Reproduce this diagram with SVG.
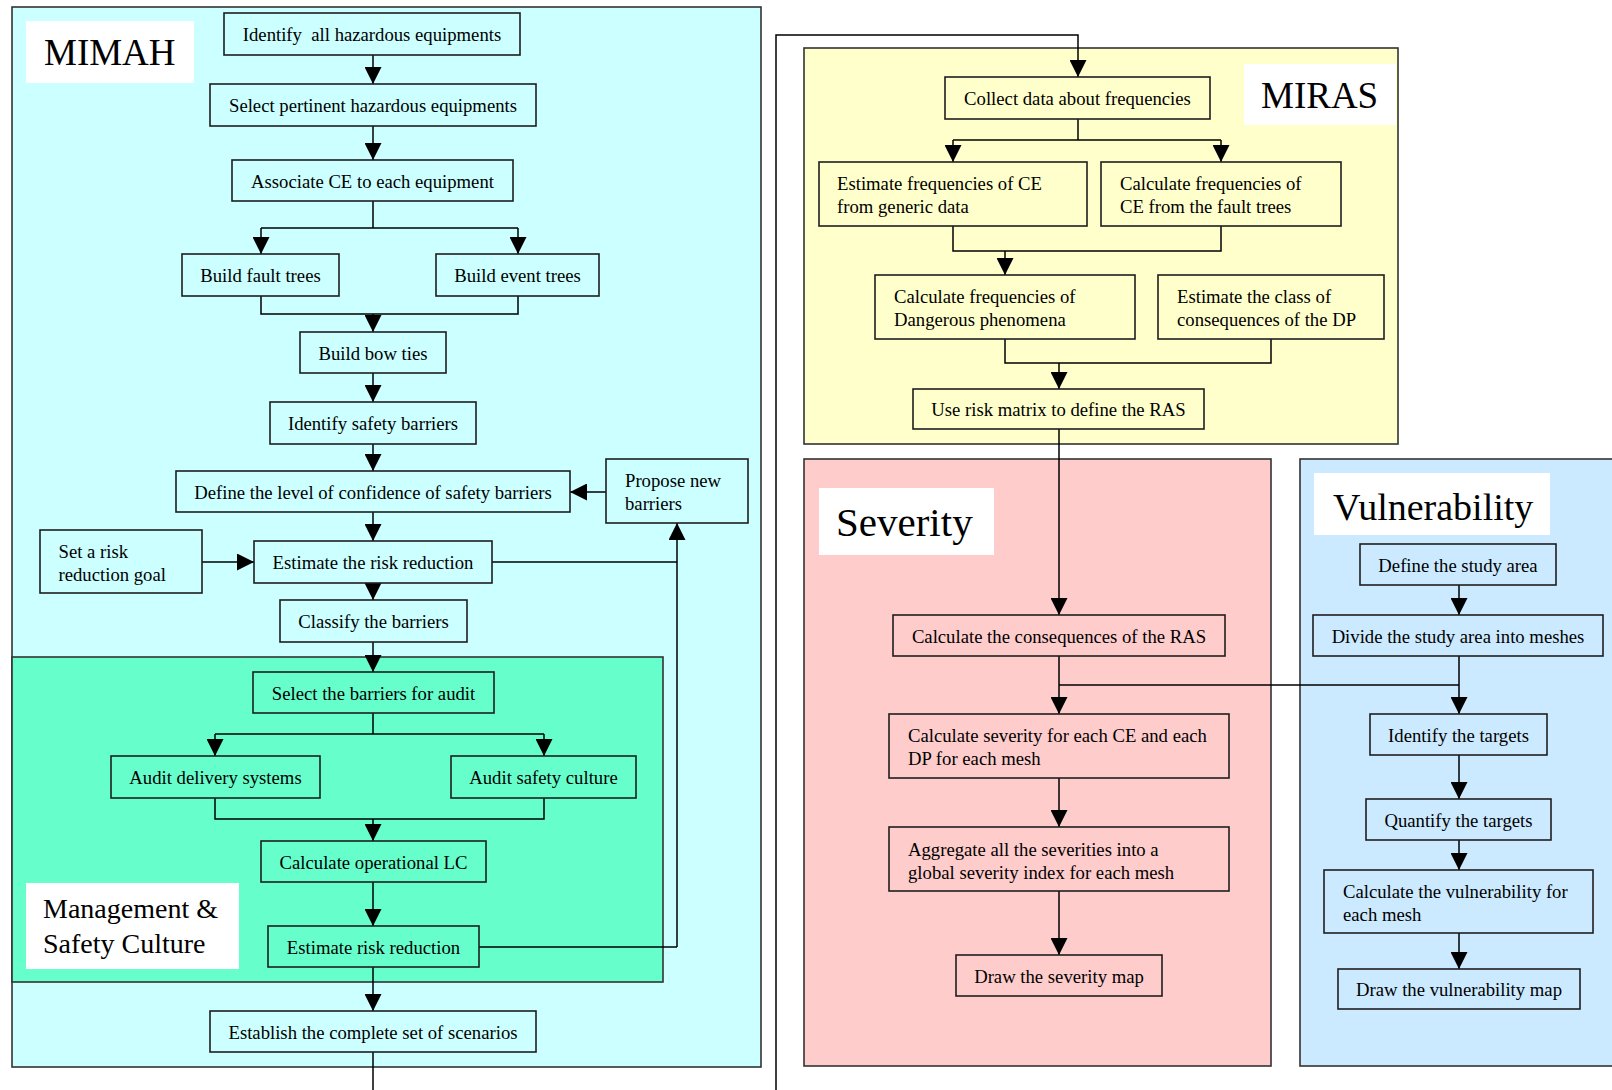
<svg xmlns="http://www.w3.org/2000/svg" width="1612" height="1090" viewBox="0 0 1612 1090">
  <style>
    .bg { fill: #ffffff; }
    .panel { stroke: #333333; stroke-width: 1.6; }
    .mimah { fill: #ccffff; }
    .msc { fill: #66ffcc; }
    .miras { fill: #ffffcc; }
    .sev { fill: #ffcccc; }
    .vul { fill: #cceaff; }
    .tag { fill: #ffffff; }
    .tagtext { font-family: "Liberation Serif", "Times New Roman", serif; fill: #000; }
    .box { fill: none; stroke: #1e1e1e; stroke-width: 1.6; }
    .t { font-family: "Liberation Serif", "Times New Roman", serif; font-size: 18.7px; fill: #000; }
    .c { text-anchor: middle; }
    .wire { fill: none; stroke: #000; stroke-width: 1.5; }
    .arr { marker-end: url(#head); }
  </style>
  <defs>
    <marker id="head" viewBox="0 0 17 17" refX="17" refY="8.5" markerWidth="17" markerHeight="17" markerUnits="userSpaceOnUse" orient="auto">
      <path d="M0,0 L17,8.5 L0,17 Z" fill="#000"/>
    </marker>
  </defs>

  <rect class="bg" x="0" y="0" width="1612" height="1090"/>

  <!-- Process areas -->
  <g id="area-mimah">
    <rect class="panel mimah" x="12" y="7" width="749" height="1060"/>
    <rect class="tag" x="26" y="21" width="168" height="62"/>
    <text class="tagtext" x="44" y="65" font-size="37">MIMAH</text>
  </g>
  <g id="area-msc">
    <rect class="panel msc" x="12" y="657" width="651" height="325"/>
    <rect class="tag" x="26" y="883" width="213" height="86"/>
    <text class="tagtext" x="43" y="918" font-size="28">Management &amp;</text>
    <text class="tagtext" x="43" y="953" font-size="28">Safety Culture</text>
  </g>
  <g id="area-miras">
    <rect class="panel miras" x="804" y="48" width="594" height="396"/>
    <rect class="tag" x="1244" y="64" width="152" height="61"/>
    <text class="tagtext" x="1261" y="108" font-size="37">MIRAS</text>
  </g>
  <g id="area-severity">
    <rect class="panel sev" x="804" y="459" width="467" height="607"/>
    <rect class="tag" x="819" y="488" width="175" height="67"/>
    <text class="tagtext" x="836" y="536" font-size="41">Severity</text>
  </g>
  <g id="area-vulnerability">
    <rect class="panel vul" x="1300" y="459" width="330" height="607"/>
    <rect class="tag" x="1314" y="473" width="236" height="62"/>
    <text class="tagtext" x="1333" y="520" font-size="38">Vulnerability</text>
  </g>

  <!-- Connectors -->
  <g id="connectors">
    <!-- MIMAH -->
    <path class="wire arr" d="M373,55 V84"/>
    <path class="wire arr" d="M373,126 V160"/>
    <path class="wire" d="M373,201 V228 M261,228 H518"/>
    <path class="wire arr" d="M261,228 V254"/>
    <path class="wire arr" d="M518,228 V254"/>
    <path class="wire" d="M261,296 V314 H518 V296"/>
    <path class="wire arr" d="M373,314 V332"/>
    <path class="wire arr" d="M373,373 V402"/>
    <path class="wire arr" d="M373,444 V471"/>
    <path class="wire arr" d="M606,492 H570"/>
    <path class="wire arr" d="M373,512 V541"/>
    <path class="wire arr" d="M202,562 H254"/>
    <path class="wire" d="M492,562 H677"/>
    <path class="wire arr" d="M677,947 V523"/>
    <path class="wire" d="M479,947 H677"/>
    <path class="wire arr" d="M373,583 V600"/>
    <path class="wire arr" d="M373,642 V672"/>
    <path class="wire" d="M373,713 V734 M215,734 H544"/>
    <path class="wire arr" d="M215,734 V756"/>
    <path class="wire arr" d="M544,734 V756"/>
    <path class="wire" d="M215,798 V819 H544 V798"/>
    <path class="wire arr" d="M373,819 V841"/>
    <path class="wire arr" d="M373,882 V926"/>
    <path class="wire arr" d="M373,967 V1011"/>
    <path class="wire" d="M373,1052 V1090"/>
    <!-- link into MIRAS -->
    <path class="wire arr" d="M776,1090 V35 H1078 V77"/>
    <!-- MIRAS -->
    <path class="wire" d="M1078,119 V140 M953,140 H1221"/>
    <path class="wire arr" d="M953,140 V162"/>
    <path class="wire arr" d="M1221,140 V162"/>
    <path class="wire" d="M953,226 V251 H1221 V226"/>
    <path class="wire arr" d="M1005,251 V275"/>
    <path class="wire" d="M1005,339 V363 H1271 V339"/>
    <path class="wire arr" d="M1059,363 V389"/>
    <path class="wire arr" d="M1059,429 V615"/>
    <!-- Severity -->
    <path class="wire arr" d="M1059,656 V714"/>
    <path class="wire arr" d="M1059,778 V827"/>
    <path class="wire arr" d="M1059,891 V955"/>
    <!-- Vulnerability -->
    <path class="wire arr" d="M1459,585 V615"/>
    <path class="wire arr" d="M1459,656 V714"/>
    <path class="wire" d="M1459,685 H1059"/>
    <path class="wire arr" d="M1459,755 V799"/>
    <path class="wire arr" d="M1459,840 V870"/>
    <path class="wire arr" d="M1459,933 V969"/>
  </g>

  <!-- MIMAH steps -->
  <g id="identify-equipments">
    <rect class="box" x="224" y="13" width="296" height="42"/>
    <text class="t c" x="372" y="41" xml:space="preserve">Identify  all hazardous equipments</text>
  </g>
  <g id="select-equipments">
    <rect class="box" x="210" y="84" width="326" height="42"/>
    <text class="t c" x="373" y="112">Select pertinent hazardous equipments</text>
  </g>
  <g id="associate-ce">
    <rect class="box" x="232" y="160" width="281" height="41"/>
    <text class="t c" x="372.5" y="187.5">Associate CE to each equipment</text>
  </g>
  <g id="build-fault-trees">
    <rect class="box" x="182" y="254" width="157" height="42"/>
    <text class="t c" x="260.5" y="282">Build fault trees</text>
  </g>
  <g id="build-event-trees">
    <rect class="box" x="436" y="254" width="163" height="42"/>
    <text class="t c" x="517.5" y="282">Build event trees</text>
  </g>
  <g id="build-bow-ties">
    <rect class="box" x="300" y="332" width="146" height="41"/>
    <text class="t c" x="373" y="359.5">Build bow ties</text>
  </g>
  <g id="identify-barriers">
    <rect class="box" x="270" y="402" width="206" height="42"/>
    <text class="t c" x="373" y="430">Identify safety barriers</text>
  </g>
  <g id="define-confidence">
    <rect class="box" x="176" y="471" width="394" height="41"/>
    <text class="t c" x="373" y="498.5">Define the level of confidence of safety barriers</text>
  </g>
  <g id="propose-barriers">
    <rect class="box" x="606" y="459" width="142" height="64"/>
    <text class="t" x="625" y="487">Propose new</text>
    <text class="t" x="625" y="509.5">barriers</text>
  </g>
  <g id="set-goal">
    <rect class="box" x="40" y="530" width="162" height="63"/>
    <text class="t" x="58.5" y="557.5">Set a risk</text>
    <text class="t" x="58.5" y="580.5">reduction goal</text>
  </g>
  <g id="estimate-risk-reduction">
    <rect class="box" x="254" y="541" width="238" height="42"/>
    <text class="t c" x="373" y="569">Estimate the risk reduction</text>
  </g>
  <g id="classify-barriers">
    <rect class="box" x="280" y="600" width="187" height="42"/>
    <text class="t c" x="373.5" y="628">Classify the barriers</text>
  </g>
  <g id="select-audit">
    <rect class="box" x="253" y="672" width="241" height="41"/>
    <text class="t c" x="373.5" y="699.5">Select the barriers for audit</text>
  </g>
  <g id="audit-delivery">
    <rect class="box" x="111" y="756" width="209" height="42"/>
    <text class="t c" x="215.5" y="784">Audit delivery systems</text>
  </g>
  <g id="audit-culture">
    <rect class="box" x="451" y="756" width="185" height="42"/>
    <text class="t c" x="543.5" y="784">Audit safety culture</text>
  </g>
  <g id="operational-lc">
    <rect class="box" x="261" y="841" width="225" height="41"/>
    <text class="t c" x="373.5" y="868.5">Calculate operational LC</text>
  </g>
  <g id="estimate-reduction">
    <rect class="box" x="268" y="926" width="211" height="41"/>
    <text class="t c" x="373.5" y="953.5">Estimate risk reduction</text>
  </g>
  <g id="complete-scenarios">
    <rect class="box" x="210" y="1011" width="326" height="41"/>
    <text class="t c" x="373" y="1038.5">Establish the complete set of scenarios</text>
  </g>

  <!-- MIRAS steps -->
  <g id="collect-frequencies">
    <rect class="box" x="945" y="77" width="265" height="42"/>
    <text class="t c" x="1077.5" y="105">Collect data about frequencies</text>
  </g>
  <g id="generic-frequencies">
    <rect class="box" x="819" y="162" width="268" height="64"/>
    <text class="t" x="837" y="189.5">Estimate frequencies of CE</text>
    <text class="t" x="837" y="212.5">from generic data</text>
  </g>
  <g id="fault-tree-frequencies">
    <rect class="box" x="1101" y="162" width="240" height="64"/>
    <text class="t" x="1120" y="189.5">Calculate frequencies of</text>
    <text class="t" x="1120" y="212.5">CE from the fault trees</text>
  </g>
  <g id="dp-frequencies">
    <rect class="box" x="875" y="275" width="260" height="64"/>
    <text class="t" x="894" y="302.5">Calculate frequencies of</text>
    <text class="t" x="894" y="325.5">Dangerous phenomena</text>
  </g>
  <g id="dp-consequence-class">
    <rect class="box" x="1158" y="275" width="226" height="64"/>
    <text class="t" x="1177" y="302.5">Estimate the class of</text>
    <text class="t" x="1177" y="325.5">consequences of the DP</text>
  </g>
  <g id="risk-matrix">
    <rect class="box" x="913" y="389" width="291" height="40"/>
    <text class="t c" x="1058.5" y="416">Use risk matrix to define the RAS</text>
  </g>

  <!-- Severity steps -->
  <g id="ras-consequences">
    <rect class="box" x="893" y="615" width="332" height="41"/>
    <text class="t c" x="1059" y="642.5">Calculate the consequences of the RAS</text>
  </g>
  <g id="severity-per-mesh">
    <rect class="box" x="889" y="714" width="340" height="64"/>
    <text class="t" x="908" y="742">Calculate severity for each CE and each</text>
    <text class="t" x="908" y="765">DP for each mesh</text>
  </g>
  <g id="aggregate-severity">
    <rect class="box" x="889" y="827" width="340" height="64"/>
    <text class="t" x="908" y="855.5">Aggregate all the severities into a</text>
    <text class="t" x="908" y="878.5">global severity index for each mesh</text>
  </g>
  <g id="severity-map">
    <rect class="box" x="956" y="955" width="206" height="41"/>
    <text class="t c" x="1059" y="982.5">Draw the severity map</text>
  </g>

  <!-- Vulnerability steps -->
  <g id="study-area">
    <rect class="box" x="1360" y="544" width="196" height="41"/>
    <text class="t c" x="1458" y="571.5">Define the study area</text>
  </g>
  <g id="meshes">
    <rect class="box" x="1313" y="615" width="290" height="41"/>
    <text class="t c" x="1458" y="642.5">Divide the study area into meshes</text>
  </g>
  <g id="identify-targets">
    <rect class="box" x="1370" y="714" width="177" height="41"/>
    <text class="t c" x="1458.5" y="741.5">Identify the targets</text>
  </g>
  <g id="quantify-targets">
    <rect class="box" x="1366" y="799" width="185" height="41"/>
    <text class="t c" x="1458.5" y="826.5">Quantify the targets</text>
  </g>
  <g id="vulnerability-per-mesh">
    <rect class="box" x="1324" y="870" width="269" height="63"/>
    <text class="t" x="1343" y="898">Calculate the vulnerability for</text>
    <text class="t" x="1343" y="920.5">each mesh</text>
  </g>
  <g id="vulnerability-map">
    <rect class="box" x="1338" y="969" width="242" height="40"/>
    <text class="t c" x="1459" y="996">Draw the vulnerability map</text>
  </g>
</svg>
